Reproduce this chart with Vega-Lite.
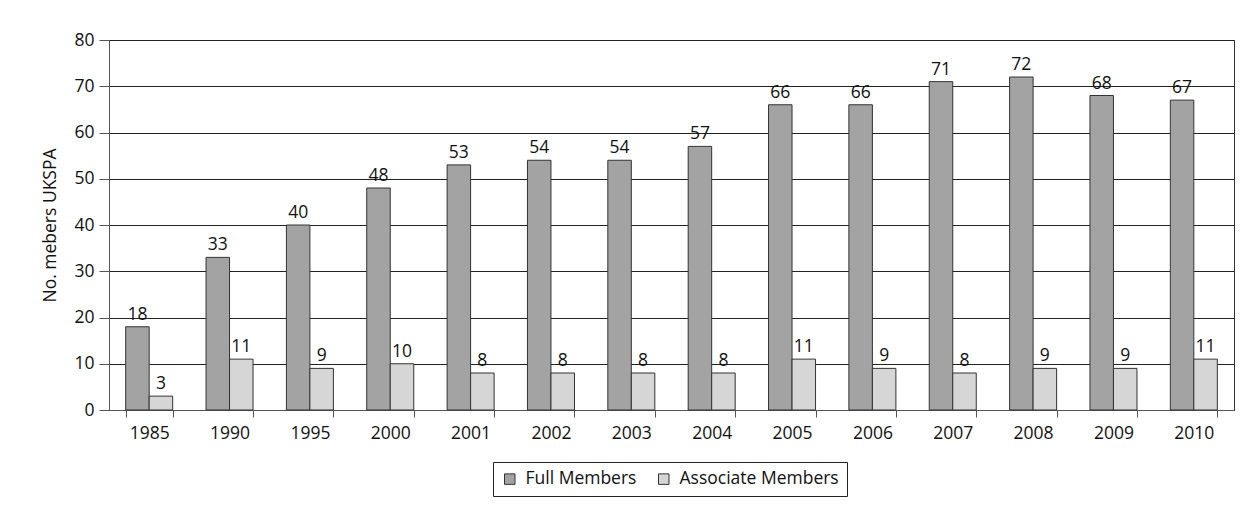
{
  "$schema": "https://vega.github.io/schema/vega-lite/v6.json",
  "width": 1125,
  "height": 370,
  "autosize": {"type": "none"},
  "padding": {"left": 109, "top": 40, "right": 16, "bottom": 105},
  "background": "#ffffff",
  "config": {
    "font": "Open Sans",
    "view": {"stroke": "#333333", "strokeWidth": 1},
    "axis": {"labelFont": "Open Sans", "titleFont": "Open Sans", "labelColor": "#111111", "titleColor": "#111111"}
  },
  "data": {
    "values": [
      {"year": "1985", "type": "Full Members", "value": 18},
      {"year": "1990", "type": "Full Members", "value": 33},
      {"year": "1995", "type": "Full Members", "value": 40},
      {"year": "2000", "type": "Full Members", "value": 48},
      {"year": "2001", "type": "Full Members", "value": 53},
      {"year": "2002", "type": "Full Members", "value": 54},
      {"year": "2003", "type": "Full Members", "value": 54},
      {"year": "2004", "type": "Full Members", "value": 57},
      {"year": "2005", "type": "Full Members", "value": 66},
      {"year": "2006", "type": "Full Members", "value": 66},
      {"year": "2007", "type": "Full Members", "value": 71},
      {"year": "2008", "type": "Full Members", "value": 72},
      {"year": "2009", "type": "Full Members", "value": 68},
      {"year": "2010", "type": "Full Members", "value": 67},
      {"year": "1985", "type": "Associate Members", "value": 3},
      {"year": "1990", "type": "Associate Members", "value": 11},
      {"year": "1995", "type": "Associate Members", "value": 9},
      {"year": "2000", "type": "Associate Members", "value": 10},
      {"year": "2001", "type": "Associate Members", "value": 8},
      {"year": "2002", "type": "Associate Members", "value": 8},
      {"year": "2003", "type": "Associate Members", "value": 8},
      {"year": "2004", "type": "Associate Members", "value": 8},
      {"year": "2005", "type": "Associate Members", "value": 11},
      {"year": "2006", "type": "Associate Members", "value": 9},
      {"year": "2007", "type": "Associate Members", "value": 8},
      {"year": "2008", "type": "Associate Members", "value": 9},
      {"year": "2009", "type": "Associate Members", "value": 9},
      {"year": "2010", "type": "Associate Members", "value": 11}
    ]
  },
  "encoding": {
    "x": {
      "field": "year", "type": "nominal", "sort": null,
      "scale": {"paddingInner": 0.415, "paddingOuter": 0.2075},
      "axis": {"title": null, "labelAngle": 0, "labelFontSize": 17.5, "tickBand": "extent", "tickSize": 7, "tickColor": "#555555", "domainColor": "#555555", "labelPadding": 7, "grid": false}
    },
    "xOffset": {"field": "type", "type": "nominal", "sort": ["Full Members", "Associate Members"], "scale": {"paddingInner": 0, "paddingOuter": 0}},
    "y": {
      "field": "value", "type": "quantitative",
      "scale": {"domain": [0, 80], "nice": false},
      "axis": {"title": "No. mebers UKSPA", "titleFontSize": 17.5, "titleFontWeight": "normal", "titlePadding": 14, "labelFontSize": 17.5, "values": [0, 10, 20, 30, 40, 50, 60, 70, 80], "tickSize": 10, "labelPadding": 5, "tickColor": "#555555", "domainColor": "#555555", "gridColor": "#222222", "gridOpacity": 1, "grid": true}
    }
  },
  "layer": [
    {
      "mark": {"type": "bar", "stroke": "#333333", "strokeWidth": 1},
      "encoding": {
        "color": {
          "field": "type", "type": "nominal",
          "scale": {"domain": ["Full Members", "Associate Members"], "range": ["#a3a3a3", "#d6d6d6"]},
          "legend": {
            "title": null, "orient": "none", "direction": "horizontal",
            "legendX": 384, "legendY": 422,
            "strokeColor": "#222222", "padding": 8,
            "labelFontSize": 17.5, "labelColor": "#111111", "labelFont": "Open Sans", "labelLimit": 0,
            "symbolType": "square", "symbolSize": 110, "symbolStrokeColor": "#333333", "symbolStrokeWidth": 1,
            "symbolOpacity": 1, "columnPadding": 18, "labelOffset": 7
          }
        }
      }
    },
    {
      "mark": {"type": "text", "baseline": "bottom", "dy": -3, "fontSize": 17.5, "color": "#111111"},
      "encoding": {"text": {"field": "value", "type": "quantitative"}}
    }
  ]
}
